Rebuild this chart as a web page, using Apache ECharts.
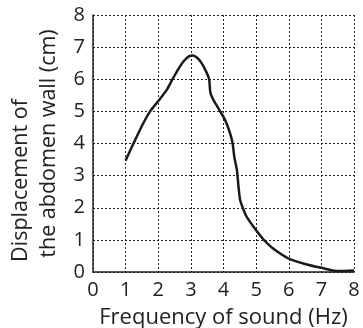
<!DOCTYPE html>
<html>
<head>
<meta charset="utf-8">
<script src="https://cdn.jsdelivr.net/npm/echarts@6/dist/echarts.min.js"></script>
<style>
  html, body { margin: 0; padding: 0; background: #fff; }
  #chart { width: 363px; height: 328px; }
</style>
</head>
<body>
<div id="chart"></div>
<script>
// frequency (Hz) vs displacement (cm)
const freq = [1.0, 1.24, 1.54, 1.75, 2.0, 2.26, 2.42, 2.57, 2.77, 2.95, 3.06, 3.2, 3.33, 3.49, 3.56, 3.6, 3.69, 3.87, 4.05, 4.2, 4.28, 4.33, 4.41, 4.46, 4.51, 4.59, 4.71, 4.92, 5.22, 5.5, 6.0, 6.5, 7.0, 7.5, 8.0]
const displacement = [3.47, 4.0, 4.63, 5.0, 5.32, 5.67, 5.97, 6.24, 6.55, 6.72, 6.74, 6.66, 6.5, 6.19, 6.0, 5.57, 5.36, 5.05, 4.73, 4.32, 4.0, 3.59, 3.18, 2.66, 2.24, 2.0, 1.72, 1.41, 1.02, 0.75, 0.42, 0.25, 0.13, 0.03, 0.05]
const xTitle = 'Frequency of sound (Hz)'
const yTitleLines = ['Displacement of', 'the abdomen wall (cm)']

const chart = echarts.init(document.getElementById('chart'))
const font = '"Open Sans", sans-serif'
const gridLine = { show: true, lineStyle: { color: '#222', width: 1, type: [2, 2] } }

chart.setOption({
  animation: false,
  grid: { left: 93, right: 9, top: 15, bottom: 56, containLabel: false, outerBoundsMode: 'none' },
  xAxis: {
    type: 'value', min: 0, max: 8, interval: 1,
    name: xTitle, nameLocation: 'middle', nameGap: 35,
    nameTextStyle: { fontFamily: font, fontSize: 22, color: '#222' },
    axisLine: { show: true, lineStyle: { color: '#222', width: 1.5 } },
    axisTick: { show: false },
    axisLabel: { fontFamily: font, fontSize: 20, color: '#222', margin: 8 },
    splitLine: gridLine
  },
  yAxis: {
    type: 'value', min: 0, max: 8, interval: 1,
    // first line starts at the same spot as the second, so pad it on the right
    name: '{a|' + yTitleLines[0] + '}\n{b|' + yTitleLines[1] + '}',
    nameLocation: 'middle', nameGap: 28, nameRotate: 90,
    nameTextStyle: {
      fontFamily: font, fontSize: 21.5, color: '#222', lineHeight: 28,
      rich: {
        a: { fontFamily: font, fontSize: 21.5, color: '#222', lineHeight: 28, padding: [0, 74, 0, 0] },
        b: { fontFamily: font, fontSize: 21.5, color: '#222', lineHeight: 28 }
      }
    },
    axisLine: { show: true, lineStyle: { color: '#222', width: 1.5 } },
    axisTick: { show: false },
    axisLabel: { fontFamily: font, fontSize: 20, color: '#222', margin: 8 },
    splitLine: gridLine
  },
  series: [{
    type: 'line',
    data: freq.map((f, i) => [f, displacement[i]]),
    smooth: 0.25,
    symbol: 'none',
    lineStyle: { color: '#1a1a1a', width: 2.5 }
  }]
})
</script>
</body>
</html>
